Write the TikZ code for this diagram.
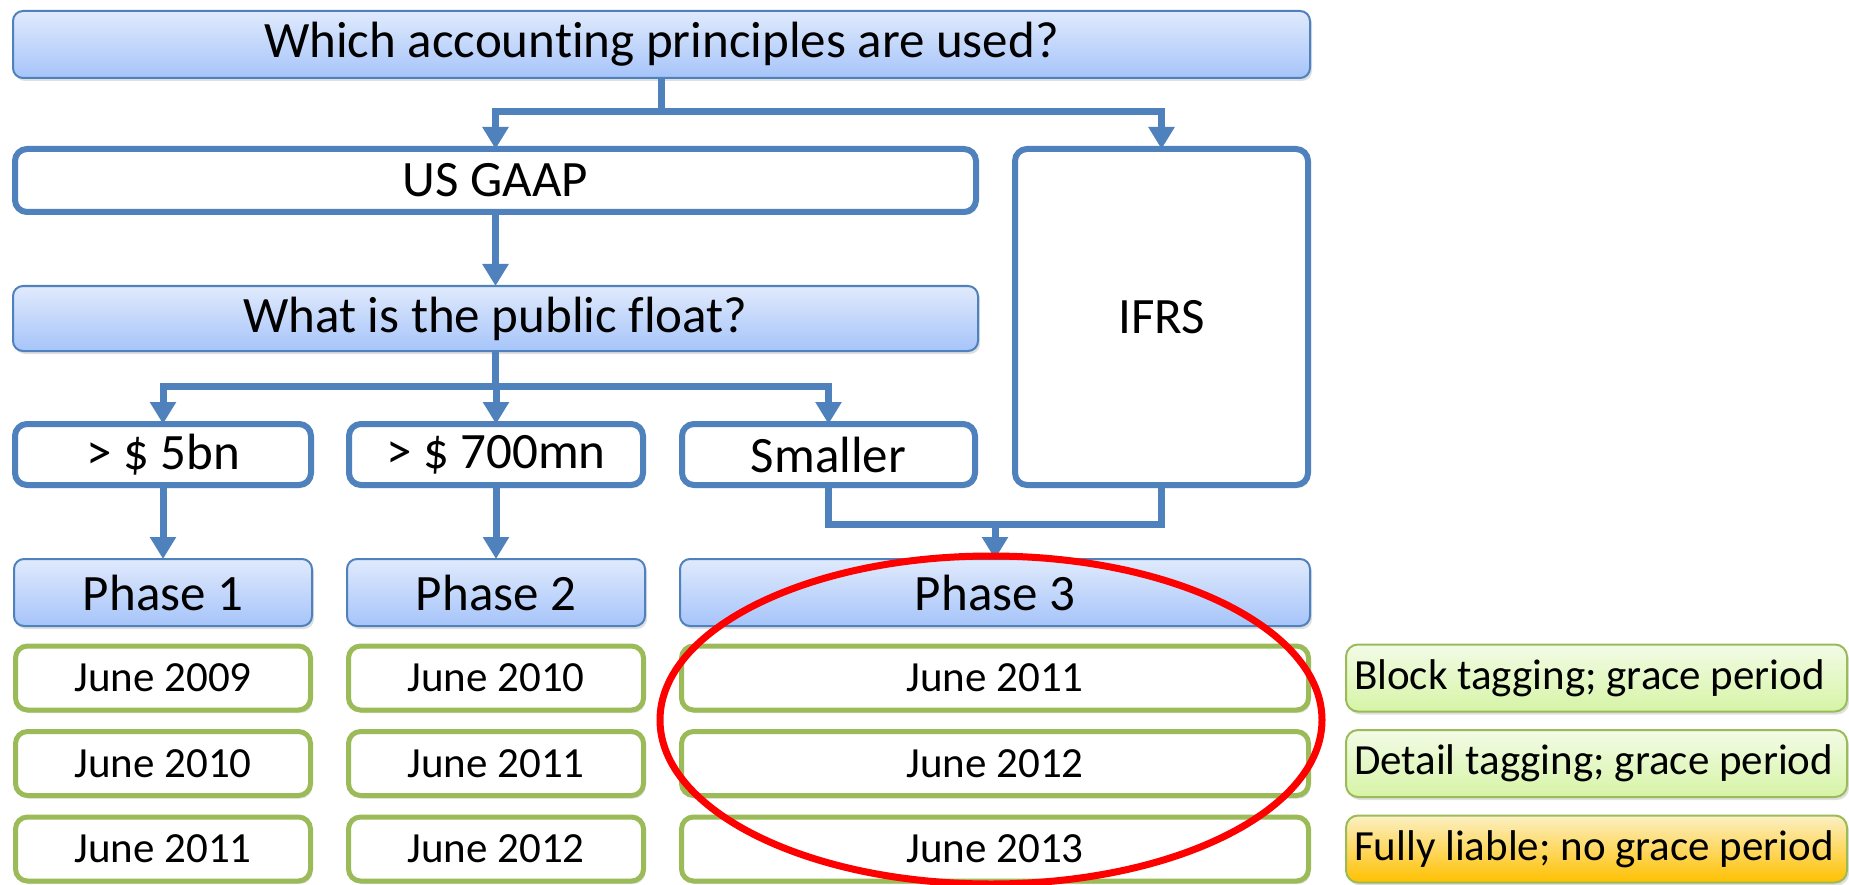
\documentclass[tikz,border=0pt]{standalone}
\usepackage{fontspec}
\setmainfont{Carlito}[Ligatures=NoCommon]
\usepackage{xcolor}
\usepackage{tikz}
\usetikzlibrary{positioning}
\usetikzlibrary{arrows.meta,shadows}
\definecolor{flowblue}{HTML}{4F81BD}
\definecolor{boxtop}{HTML}{E0EAFC}
\definecolor{boxbot}{HTML}{A6C4FA}
\definecolor{dategreen}{HTML}{9BBB59}
\definecolor{notetop}{HTML}{F3FBE6}
\definecolor{notebot}{HTML}{D6F4A6}
\definecolor{warntop}{HTML}{FCF0C4}
\definecolor{warnbot}{HTML}{FFC000}
\tikzset{edge/.style = {-{Triangle[width=25pt,length=22pt]}, line width=7pt, draw=flowblue}}
\tikzset{link/.style = {line width=7pt, draw=flowblue}}

\begin{document}
\begin{tikzpicture}[x=1pt,y=-1pt,
    every node/.style={inner sep=0pt,outer sep=0pt,font=\fontsize{51}{60}\selectfont},
    soft shadow/.style={drop shadow={opacity=0.25,shadow xshift=2pt,shadow yshift=-3pt}},
    blue node/.style={draw=flowblue,line width=2pt,rounded corners=10pt,top color=boxtop,bottom color=boxbot,soft shadow},
    white node/.style={draw=flowblue,line width=6pt,rounded corners=12pt,fill=white,soft shadow},
    date node/.style={draw=dategreen,line width=5pt,rounded corners=12pt,fill=white,soft shadow,minimum height=64pt,font=\fontsize{43}{50}\selectfont},
    note node/.style={draw=dategreen,line width=2pt,rounded corners=12pt,top color=notetop,bottom color=notebot,soft shadow,minimum width=501pt,minimum height=67pt,text width=485pt,align=flush left,font=\fontsize{43}{50}\selectfont}]
    \useasboundingbox (0,0) rectangle (1849,885);

    \node[blue node,minimum width=1297pt,minimum height=67pt] (top) at (661.5,44.5) {Which accounting principles are used?};
    \node[white node,minimum width=961pt,minimum height=63pt] (gaap) at (495.5,180.5) {US GAAP};
    \node[white node,minimum width=293pt,minimum height=336pt] (ifrs) at (1161.5,317) {IFRS};
    \node[blue node,minimum width=965pt,minimum height=65pt] (float) at (495.5,318.5) {What is the public float?};

    \node[white node,minimum width=296pt,minimum height=61pt] (big5) at (163,454.5) {> \$ 5bn};
    \node[white node,minimum width=294pt,minimum height=61pt] (big700) at (496,454.5) {> \$ 700mn};
    \node[white node,minimum width=293pt,minimum height=61pt] (small) at (828.5,454.5) {Smaller};

    \node[blue node,minimum width=298pt,minimum height=67pt] (ph1) at (163,592.5) {Phase 1};
    \node[blue node,minimum width=298pt,minimum height=67pt] (ph2) at (496,592.5) {Phase 2};
    \node[blue node,minimum width=630pt,minimum height=67pt] (ph3) at (995,592.5) {Phase 3};

    \node[date node,minimum width=295pt] (d11) at (163,678) {June 2009};
    \node[date node,minimum width=295pt] (d12) at (163,763.5) {June 2010};
    \node[date node,minimum width=295pt] (d13) at (163,849) {June 2011};
    \node[date node,minimum width=295pt] (d21) at (496,678) {June 2010};
    \node[date node,minimum width=295pt] (d22) at (496,763.5) {June 2011};
    \node[date node,minimum width=295pt] (d23) at (496,849) {June 2012};
    \node[date node,minimum width=627pt] (d31) at (995,678) {June 2011};
    \node[date node,minimum width=627pt] (d32) at (995,763.5) {June 2012};
    \node[date node,minimum width=627pt] (d33) at (995,849) {June 2013};

    \node[note node] (n1) at (1596.5,678) {Block tagging; grace period};
    \node[note node] (n2) at (1596.5,763.5) {Detail tagging; grace period};
    \node[note node,top color=warntop,bottom color=warnbot] (n3) at (1596.5,849) {Fully liable; no grace period};

    \coordinate[below=34pt of top] (j1);
    \coordinate[below=35pt of float] (j2);
    \coordinate[above=35pt of ph3] (j3);

    \draw[link] (top) -- (j1);
    \draw[edge] (j1) -| (gaap);
    \draw[edge] (j1) -| (ifrs);
    \draw[edge] (gaap) -- (float);
    \draw[link] (float) -- (j2);
    \foreach \n in {big5,big700,small}
        \draw[edge] (j2) -| (\n);
    \draw[edge] (big5) -- (ph1);
    \draw[edge] (big700) -- (ph2);
    \draw[link] (small) |- (j3) -| (ifrs);
    \draw[edge] (j3) -- (ph3);

    \draw[red,line width=7pt] (991,720) ellipse [x radius=331pt,y radius=164pt];
\end{tikzpicture}
\end{document}
